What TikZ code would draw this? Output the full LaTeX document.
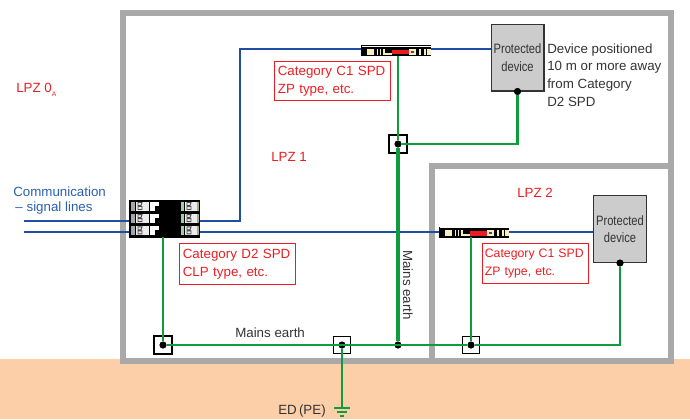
\documentclass[tikz,border=0pt]{standalone}
\usepackage{fontspec}
\setmainfont{Liberation Sans}
\newfontfamily\narrowfont[FakeStretch=0.82]{Liberation Sans}
\usepackage{xcolor}
\usetikzlibrary{positioning}
\definecolor{wallgray}{HTML}{A9A9A9}
\definecolor{soil}{HTML}{FDCFA8}
\definecolor{devgray}{HTML}{CCCCCC}
\definecolor{linkblue}{HTML}{1F4EA0}
\definecolor{textblue}{HTML}{2B5FAE}
\definecolor{earth}{HTML}{0E9C3C}
\definecolor{zone}{HTML}{EC1C24}
\definecolor{ink}{HTML}{333333}
\definecolor{cream}{HTML}{F6EDC4}
\definecolor{mint}{HTML}{9CCFA8}

\begin{document}
\begin{tikzpicture}[
  x=0.75pt,y=-0.75pt,
  font=\fontsize{10pt}{13.2pt}\selectfont, every node/.style={align=left,text=ink,inner xsep=0pt},
  wall/.style={draw=wallgray,line width=5.2pt},
  sig/.style={draw=linkblue,line width=2pt},
  gnd/.style={draw=earth,line width=2pt},
  gndthick/.style={draw=earth,line width=3pt},
  device/.style={draw=black!80,fill=devgray,line width=1pt,inner sep=0pt,align=center,
                 font=\narrowfont\fontsize{10.2pt}{13pt}\selectfont},
  spdbox/.style={draw=black,fill=black,inner sep=0pt},
  dot/.style={circle,fill=black,inner sep=0pt,minimum size=5.4pt},
  term/.style={draw=black,fill=none,inner sep=0pt,minimum size=13.5pt,line width=0.8pt},
  tag/.style={draw=zone,text=zone,line width=0.8pt,inner sep=0pt,align=left,anchor=north west,
              font=\fontsize{10pt}{13.6pt}\selectfont},
  lpz/.style={text=zone},
  pics/slimspd/.style={code={
    \fill[white] (0,0) rectangle (69,1);
    \fill[cream] (5,3) rectangle (12,9);
    \fill[cream] (15,3) rectangle (16,9);
    \fill[cream] (18,3) rectangle (19,9);
    \fill[cream] (21,3) rectangle (23,9);
    \fill[cream] (23,7) rectangle (30,9);
    \fill[zone] (30,4) rectangle (47,8.5);
    \fill[cream] (47,3) rectangle (54,9);
    \fill[black!70] (49,5) rectangle (52,7);
    \fill[cream] (57,3) rectangle (59,9);
    \fill[cream] (62,3) rectangle (69,9);
    \fill[black] (64,3) rectangle (65,9);
  }},
  pics/mainrow/.style={code={
    \fill[gray!70] (1,1) rectangle (5,10);
    \fill[black!8] (6,1) rectangle (19,10);
    \draw[black!70,line width=0.7pt] (8,2) -- (12,2) -- (11,5) -- (8,5) -- cycle (8,6) rectangle (12,9);
    \fill[white] (20,1) rectangle (25,10);
    \fill[white] (25,1) rectangle (29,5);
    \fill[mint] (51,1) rectangle (54,10);
    \fill[black!8] (55,1) rectangle (67,10);
    \draw[black!70,line width=0.7pt] (57,2) -- (61,2) -- (60,5) -- (57,5) -- cycle (57,6) rectangle (61,9);
    \fill[cream!70!black] (67,1) rectangle (69,10);
  }}
]
\useasboundingbox (0,0) rectangle (690,419);
% ground and walls
\fill[soil] (0,359) rectangle (690,419);
\draw[wall] (123,13) rectangle (671,361);
\draw[wall] (432,361) -- (432,166) -- (671,166);

% surge protective devices
\node[spdbox,minimum width=52.5pt,minimum height=28pt] (spdD) at (164.5,218.5) {};
\foreach \row in {0,1,2}
  \pic at (130,{200.5+12.2*\row}) {mainrow};
\node[spdbox,minimum width=52pt,minimum height=7.5pt] (spdA) at (396,50.5) {};
\pic at (361.5,45.5) {slimspd};
\node[spdbox,minimum width=52pt,minimum height=7.5pt] (spdB) at (474,232) {};
\pic at (439.5,227) {slimspd};

% protected devices
\node[device,minimum width=39.5pt,minimum height=50pt] (devA) at (517.5,57.5) {Protected\\device};
\node[device,minimum width=40pt,minimum height=50pt] (devB) at (620,229) {Protected\\device};

% junctions
\node[dot] (jA) at (398,144) {};
\node[term] at (398,144) {};
\node[dot] (jB) at (163,345) {};
\node[term] at (163,345) {};
\node[dot] (jC) at (342,345) {};
\node[term,minimum size=13pt] at (342,345) {};
\node[dot] (jD) at (398,345) {};
\node[dot] (jE) at (471,345) {};
\node[term,minimum size=13pt] at (471,345) {};
\node[dot] (devAe) at (devA.south) {};
\node[dot] (devBe) at (devB.south) {};
\coordinate (inA) at (24,221);
\coordinate (inB) at (24,232);
\coordinate (pe) at (342,408);

% signal lines
\draw[sig] (inA) -- (spdD.west |- inA);
\draw[sig] (inB) -- (spdD.west |- inB);
\draw[sig] (spdD.east |- inA) -| (240,49) -- (spdA.west |- 0,49);
\draw[sig] (spdA.east |- 0,49) -- (devA.west |- 0,49);
\draw[sig] (spdD.east |- inB) -- (spdB.west |- inB);
\draw[sig] (spdB.east |- inB) -- (devB.west |- inB);

% earthing
\draw[gnd] (spdD.south -| jB) -- (jB);
\draw[gnd] (spdA.south -| jA) -- (jA);
\draw[gnd] (devAe) |- (jA);
\draw[gndthick] (jA) -- (jD);
\draw[gnd] (spdB.south -| jE) -- (jE);
\draw[gnd] (devBe) |- (jE);
\draw[gnd] (jB) -- (jE);
\draw[gnd] (jC) -- (pe);
\draw[gnd] (334,408) -- (350,408);
\draw[gnd] (337,412) -- (347,412);
\draw[gnd] (340,416) -- (344,416);

% labels
\node[lpz,anchor=west] (lpzOa) at (16,90) {LPZ 0\raisebox{-2.5pt}{\fontsize{5pt}{5pt}\selectfont A}};
\node[lpz,anchor=west] (lpzA) at (271,157) {LPZ 1};
\node[lpz,anchor=west] (lpzB) at (517,193) {LPZ 2};
\node[text=textblue,anchor=west,font=\fontsize{10pt}{10.8pt}\selectfont] (comm) at (13,200.5) {Communication\\ \,– signal lines};
\node[anchor=west] (note) at (547,75) {Device positioned\\10 m or more away\\from Category\\D2 SPD};
\node[anchor=west] (meA) at (235,333) {Mains earth};
\node[rotate=-90] (meB) at (408,285) {Mains earth};
\node[anchor=east] (ed) at (326,411) {ED\,(PE)};
\node[tag,minimum width=87pt,minimum height=29pt,text width=82pt] (tagA) at (274,61) {Category C1 SPD\\ZP type, etc.};
\node[tag,minimum width=87pt,minimum height=31pt,text width=82pt] (tagD) at (179,243) {Category D2 SPD\\CLP type, etc.};
\node[tag,minimum width=79.5pt,minimum height=30pt,text width=76pt,
      font=\fontsize{9.2pt}{13pt}\selectfont] (tagB) at (482,243) {Category C1 SPD\\ZP type, etc.};
\end{tikzpicture}
\end{document}
